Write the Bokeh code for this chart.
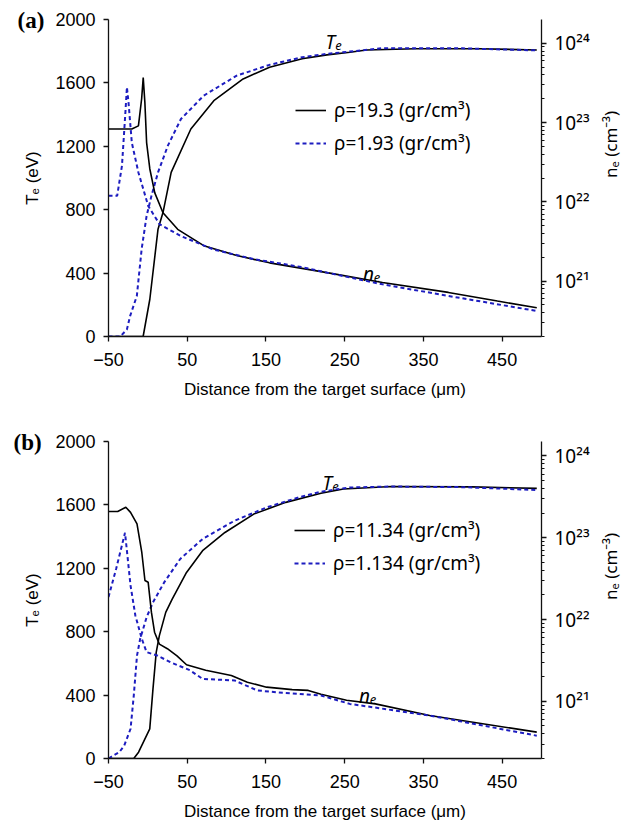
import math
from bokeh.plotting import figure
from bokeh.models import (Range1d, LogAxis, LogScale, FixedTicker, CustomJSTickFormatter,
                          Label, Legend, LegendItem)
from bokeh.layouts import column
from bokeh.embed import file_html
from bokeh.resources import INLINE

# ---------------- data ----------------
x_ticks = [-50, 50, 150, 250, 350, 450]
te_ticks = [0, 400, 800, 1200, 1600, 2000]
ne_major = [1e21, 1e22, 1e23, 1e24]
ne_minor = [m * 10.0 ** k for k in range(20, 24) for m in range(2, 10)]

# panel (a)
a_names = ["ρ=19.3 (gr/cm³)", "ρ=1.93 (gr/cm³)"]
a_te_1_x = [-50, -6, 2.5, 12.9, 19.2, 29.6, 54.6, 83.8, 121, 154.6, 196, 227.5, 256.7, 277.5, 340, 420, 494]
a_te_1 = [0, 0, 235, 677, 782, 1035, 1309, 1488, 1625, 1699, 1752, 1777, 1793, 1808, 1815, 1815, 1808]
a_te_2_x = [-50, -35, -26.6, -22.5, -14, -7.9, -1.6, 4.6, 12.9, 25.4, 42, 71, 112.9, 154.6, 196, 227.5, 298, 400, 494]
a_te_2 = [0, 0, 45, 130, 256, 551, 761, 888, 1035, 1204, 1372, 1520, 1646, 1714, 1762, 1783, 1819, 1818, 1805]
a_ne_1_x = [-50, -20.4, -12, -7.9, -5.9, -3.8, -1.6, 2.5, 8.8, 19.2, 37.9, 71, 112.9, 154.6, 227.5, 298, 381.7, 444, 494]
a_ne_1 = [8.3e22, 8.3e22, 9.1e22, 2.0e23, 3.7e23, 1.8e23, 5.6e22, 2.6e22, 1.3e22, 7.3e21, 4.5e21, 2.8e21,
          2.1e21, 1.7e21, 1.28e21, 9.6e20, 7.2e20, 5.6e20, 4.6e20]
a_ne_2_x = [-50, -39, -32.9, -28.8, -26.6, -24.6, -20.4, -12, 0.4, 15, 42, 83.8, 133.8, 196, 227.5, 298, 381.7, 494]
a_ne_2 = [1.19e22, 1.19e22, 2.85e22, 1.22e23, 2.8e23, 1.8e23, 5.6e22, 2.35e22, 8.9e21, 5.2e21, 3.7e21, 2.5e21,
          1.9e21, 1.5e21, 1.28e21, 9.1e20, 6.5e20, 4.2e20]

# panel (b)
b_names = ["ρ=11.34 (gr/cm³)", "ρ=1.134 (gr/cm³)"]
b_te_1_x = [-50, -17.9, -11.8, 2.4, 6.5, 10.6, 14.6, 22.7, 30.9, 49.1, 69.5, 97.9, 134.5, 175.2, 219.9, 248.4, 309.4, 411, 494]
b_te_1 = [0, 0, 40, 187, 439, 670, 775, 922, 1006, 1174, 1311, 1426, 1542, 1616, 1674, 1700, 1716, 1714, 1704]
b_te_2_x = [-50, -36.2, -30, -22, -17.9, -13.8, -9.8, -1.6, 6.5, 20.7, 41.1, 69.5, 110.1, 150.8, 191.5, 219.9, 256.5, 310, 400, 494]
b_te_2 = [0, 40, 82, 187, 397, 649, 754, 891, 985, 1111, 1259, 1385, 1500, 1584, 1647, 1683, 1710, 1716, 1712, 1694]
b_ne_1_x = [-50, -38.3, -28, -22, -13.8, -7.7, -3.7, 0.4, 4.5, 8.5, 14.6, 24.8, 37, 49.1, 73.5, 106, 126.4, 150.8,
            183.3, 203.7, 219.9, 252.4, 289, 358, 494]
b_ne_1 = [2.09e23, 2.09e23, 2.36e23, 2.04e23, 1.48e23, 6.6e22, 3.0e22, 2.85e22, 1.23e22, 7.0e21, 5.0e21, 4.4e21,
          3.6e21, 2.8e21, 2.4e21, 2.07e21, 1.71e21, 1.49e21, 1.39e21, 1.36e21, 1.22e21, 1.03e21, 9.3e20, 6.7e20, 4.2e20]
b_ne_2_x = [-50, -40.2, -29, -22, -15.9, -7.7, -1.6, 12.6, 28.9, 53.3, 69.5, 110.1, 138.7, 171.1, 219.9, 256.5, 358, 494]
b_ne_2 = [1.88e22, 4.2e22, 1.15e23, 2.6e22, 1.12e22, 5.8e21, 4.0e21, 3.6e21, 3.0e21, 2.4e21, 1.88e21, 1.8e21,
          1.36e21, 1.27e21, 1.18e21, 9.3e20, 6.7e20, 3.8e20]

# ---------------- style ----------------
BLUE = "#1d1dc0"
INK = "#111111"
SANS = "Liberation Sans"
CAL = "Noto Sans"
X0, X1 = -50, 500
Y0, Y1 = 0, 2000

SUP_JS = """
const sup = {"0":"\u2070","1":"\u00b9","2":"\u00b2","3":"\u00b3","4":"\u2074","5":"\u2075",
             "6":"\u2076","7":"\u2077","8":"\u2078","9":"\u2079","-":"\u207b"};
const e = Math.round(Math.log10(tick));
return "10" + String(e).split("").map(c => sup[c]).join("");
"""


def build(fig_w, fig_h, page_top, frame, ne_rng, series, names, letter, tex):
    fl, ft, fw, fh = frame  # frame in picture pixels
    bl = fl
    bt = ft - page_top
    br = fig_w - bl - fw
    bb = fig_h - bt - fh

    def dx(px):
        return X0 + (px - fl) / fw * (X1 - X0)

    def dy(py):
        return Y0 + (ft + fh - py) / fh * (Y1 - Y0)

    p = figure(width=fig_w, height=fig_h, x_range=Range1d(X0, X1), y_range=Range1d(Y0, Y1),
               output_backend="svg", toolbar_location=None,
               min_border_left=bl, min_border_right=br, min_border_top=bt, min_border_bottom=bb,
               outline_line_color=None, background_fill_color="white", border_fill_color="white")
    p.xgrid.visible = False
    p.ygrid.visible = False

    # panel letter as the plot title, pulled into the corner
    p.title.text = letter
    p.title.text_font = "Liberation Serif"
    p.title.text_font_style = "bold"
    p.title.text_font_size = "23px"
    p.title.text_color = "black"
    p.title.align = "left"
    p.title.vertical_align = "bottom"
    p.title.offset = tex["letter"] - fl
    try:
        p.title.standoff = -26
    except Exception:
        p.title.standoff = 0

    xa = p.xaxis[0]
    ya = p.yaxis[0]
    for ax in (xa, ya):
        ax.axis_line_color = INK
        ax.axis_line_width = 1.3
        ax.major_tick_line_color = INK
        ax.major_tick_line_width = 1.3
        ax.major_tick_out = 5
        ax.major_tick_in = 0
        ax.minor_tick_line_color = None
        ax.major_label_text_font = SANS
        ax.major_label_text_font_size = "18px"
        ax.major_label_text_color = "black"
        ax.axis_label_text_font = SANS
        ax.axis_label_text_font_size = "17px"
        ax.axis_label_text_font_style = "normal"
        ax.axis_label_text_color = "black"
    xa.ticker = FixedTicker(ticks=x_ticks)
    ya.ticker = FixedTicker(ticks=te_ticks)
    xa.major_label_standoff = 11
    ya.major_label_standoff = 8
    xa.axis_label = "Distance from the target surface (μm)"
    xa.axis_label_standoff = 11
    ya.axis_label = "Tₑ (eV)"
    ya.axis_label_standoff = 10

    p.extra_y_ranges = {"ne": Range1d(*ne_rng)}
    p.extra_y_scales = {"ne": LogScale()}
    ra = LogAxis(y_range_name="ne", ticker=FixedTicker(ticks=ne_major, minor_ticks=ne_minor),
                 formatter=CustomJSTickFormatter(code=SUP_JS))
    ra.axis_line_color = INK
    ra.axis_line_width = 1.3
    ra.major_tick_line_color = INK
    ra.major_tick_line_width = 1.3
    ra.major_tick_out = 5
    ra.major_tick_in = 0
    ra.minor_tick_line_color = INK
    ra.minor_tick_line_width = 1.2
    ra.minor_tick_out = 3
    ra.minor_tick_in = 0
    ra.major_label_text_font = CAL
    ra.major_label_text_font_size = "19px"
    ra.major_label_text_color = "black"
    ra.major_label_standoff = 8
    ra.axis_label = "nₑ (cm⁻³)"
    ra.axis_label_text_font = CAL
    ra.axis_label_text_font_size = "17px"
    ra.axis_label_text_font_style = "normal"
    ra.axis_label_text_color = "black"
    ra.axis_label_standoff = 18
    try:
        ra.axis_label_orientation = math.pi / 2
    except Exception:
        pass
    p.add_layout(ra, "right")

    (te1x, te1), (te2x, te2), (ne1x, ne1), (ne2x, ne2) = series
    r1 = p.line(te1x, te1, line_color="black", line_width=1.6)
    r2 = p.line(te2x, te2, line_color=BLUE, line_width=2, line_dash="4 3")
    p.line(ne1x, ne1, line_color="black", line_width=1.6, y_range_name="ne")
    p.line(ne2x, ne2, line_color=BLUE, line_width=2, line_dash="4 3", y_range_name="ne")

    leg_x, leg_row = tex["legend"]
    leg = Legend(items=[LegendItem(label=names[0], renderers=[r1]),
                        LegendItem(label=names[1], renderers=[r2])],
                 location=(leg_x - fl, ft + fh - (leg_row - 13) - 59),
                 border_line_color=None, background_fill_alpha=0, padding=0, margin=0,
                 spacing=7, glyph_width=31, glyph_height=26, label_height=26, label_standoff=8,
                 label_text_font=CAL, label_text_font_size="19px", label_text_color="black")
    p.add_layout(leg)

    def lab(px, py, text, size):
        p.add_layout(Label(x=dx(px), y=dy(py), text=text, text_font=CAL, text_font_size=size,
                           text_font_style="italic", text_align="left",
                           text_baseline="alphabetic", text_color="black"))

    tx, ty = tex["Te"]
    lab(tx, ty, "T", "19px")
    lab(tx + 10, ty + 4, "e", "13px")
    nx, ny = tex["ne"]
    lab(nx, ny, "n", "19px")
    lab(nx + 11, ny + 4, "e", "13px")
    return p


pa = build(636, 428, 0, (108, 19, 439, 317), (2e20, 2e24),
           [(a_te_1_x, a_te_1), (a_te_2_x, a_te_2), (a_ne_1_x, a_ne_1), (a_ne_2_x, a_ne_2)],
           a_names, "(a)",
           {"legend": (295, 110), "letter": 17, "Te": (328, 41), "ne": (366, 273)})

pb = build(636, 400, 428, (102, 441, 451, 317), (2e20, 1.5e24),
           [(b_te_1_x, b_te_1), (b_te_2_x, b_te_2), (b_ne_1_x, b_ne_1), (b_ne_2_x, b_ne_2)],
           b_names, "(b)",
           {"legend": (288, 530), "letter": 7, "Te": (325, 482), "ne": (363, 695)})

layout = column(pa, pb, spacing=0)
open("out.html", "w").write(file_html(layout, INLINE))
